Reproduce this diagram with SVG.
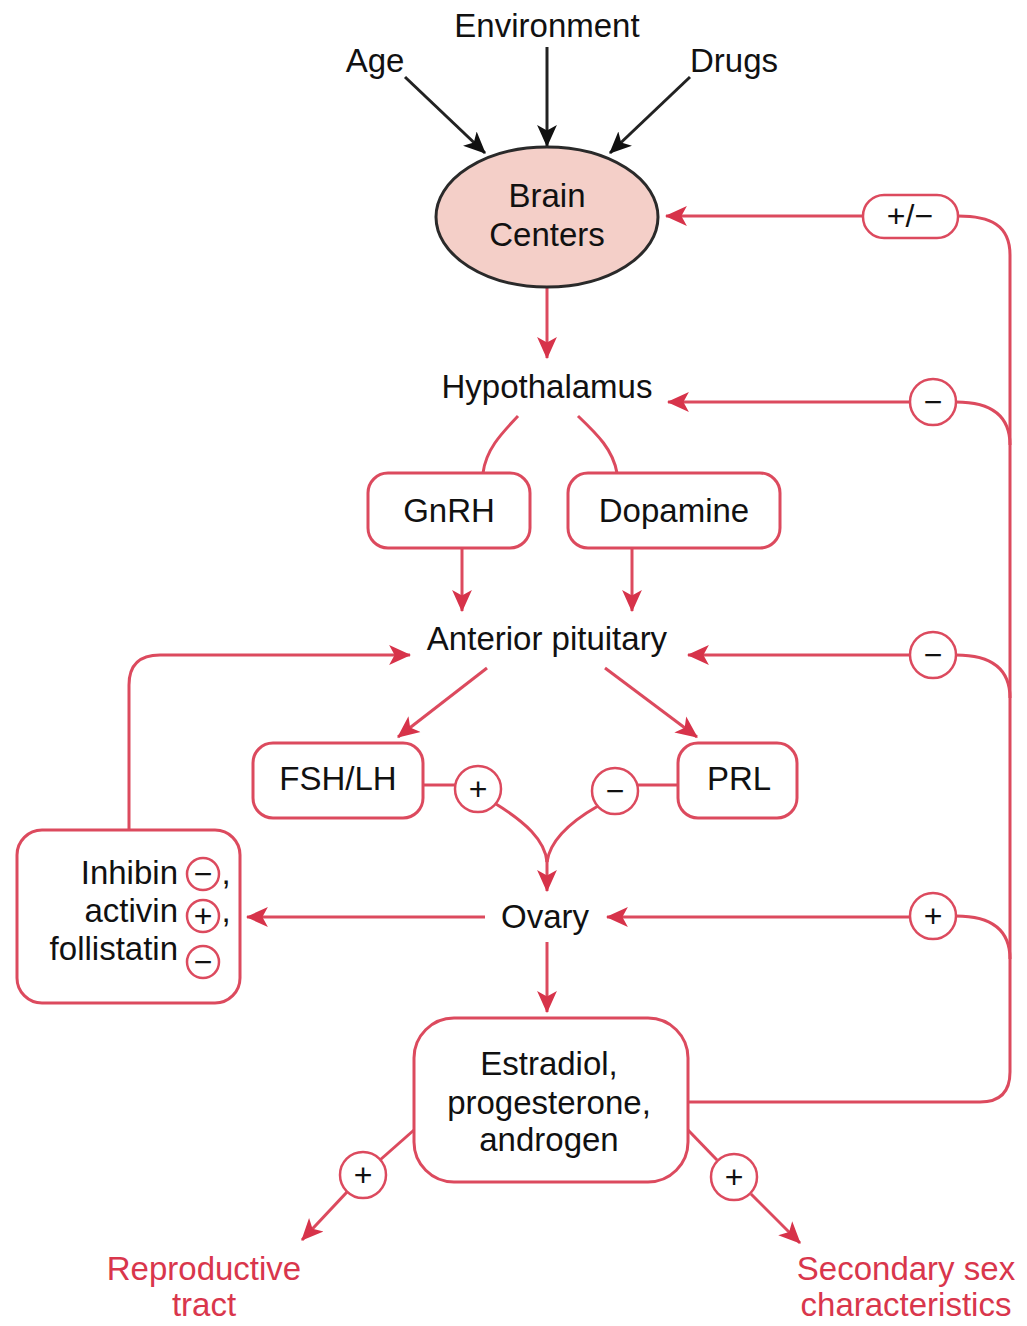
<svg xmlns="http://www.w3.org/2000/svg" width="1027" height="1326" viewBox="0 0 1027 1326">
  <style>
    .t { font-family: "Liberation Sans", Arial, sans-serif; font-size: 33px; fill: #111; text-anchor: middle; }
    .red { fill: #d9364c; }
    .box { fill: #fff; stroke: #dc4a5e; stroke-width: 3; }
    .sign { fill: #fff; stroke: #dc4a5e; stroke-width: 2.5; }
    .ln { fill: none; stroke: #dc4a5e; stroke-width: 3; }
    .blk { fill: none; stroke: #222; stroke-width: 3; }
    .sg { font-family: "Liberation Sans", Arial, sans-serif; font-size: 32px; fill: #111; text-anchor: middle; }
  </style>
  <defs>
    <marker id="arrRed" viewBox="0 0 20 20" refX="19" refY="10" markerWidth="22" markerHeight="22" markerUnits="userSpaceOnUse" orient="auto">
      <path d="M0,1 L20,10 L0,19 L5,10 z" fill="#d7334a"/>
    </marker>
    <marker id="arrBlk" viewBox="0 0 20 20" refX="19" refY="10" markerWidth="22" markerHeight="22" markerUnits="userSpaceOnUse" orient="auto">
      <path d="M0,1 L20,10 L0,19 L5,10 z" fill="#111"/>
    </marker>
  </defs>

  <rect width="1027" height="1326" fill="#fff"/>

  <!-- connectors -->
  <g id="connectors">
    <line class="blk" x1="405" y1="77" x2="485" y2="153" marker-end="url(#arrBlk)"/>
    <line class="blk" x1="547" y1="47" x2="547" y2="146" marker-end="url(#arrBlk)"/>
    <line class="blk" x1="690" y1="77" x2="610" y2="153" marker-end="url(#arrBlk)"/>

    <line class="ln" x1="547" y1="288" x2="547" y2="358" marker-end="url(#arrRed)"/>
    <line class="ln" x1="863" y1="216" x2="666" y2="216" marker-end="url(#arrRed)"/>
    <line class="ln" x1="910" y1="402" x2="668" y2="402" marker-end="url(#arrRed)"/>

    <path class="ln" d="M518,416 C500,435 486,450 483,473"/>
    <path class="ln" d="M578,416 C598,435 613,450 617,473"/>

    <line class="ln" x1="462" y1="548" x2="462" y2="611" marker-end="url(#arrRed)"/>
    <line class="ln" x1="632" y1="548" x2="632" y2="611" marker-end="url(#arrRed)"/>

    <line class="ln" x1="910" y1="655" x2="688" y2="655" marker-end="url(#arrRed)"/>
    <path class="ln" d="M129,830 V685 Q129,655 160,655 H410" marker-end="url(#arrRed)"/>

    <line class="ln" x1="487" y1="668" x2="398" y2="737" marker-end="url(#arrRed)"/>
    <line class="ln" x1="605" y1="668" x2="697" y2="737" marker-end="url(#arrRed)"/>

    <line class="ln" x1="423" y1="785" x2="455" y2="785"/>
    <line class="ln" x1="678" y1="785" x2="638" y2="785"/>
    <path class="ln" d="M496,804 C525,822 545,840 547,862"/>
    <path class="ln" d="M598,806 C570,822 550,840 547,862"/>
    <line class="ln" x1="547" y1="855" x2="547" y2="891" marker-end="url(#arrRed)"/>

    <line class="ln" x1="485" y1="917" x2="247" y2="917" marker-end="url(#arrRed)"/>
    <line class="ln" x1="910" y1="917" x2="607" y2="917" marker-end="url(#arrRed)"/>
    <line class="ln" x1="547" y1="942" x2="547" y2="1012" marker-end="url(#arrRed)"/>

    <!-- feedback trunk from the steroid box -->
    <path class="ln" d="M688,1102 H980 Q1010,1102 1010,1072 V255 C1010,225 990,216 958,216"/>
    <path class="ln" d="M956,402 C990,402 1010,415 1010,445"/>
    <path class="ln" d="M956,655 C990,655 1010,668 1010,698"/>
    <path class="ln" d="M956,916 C990,916 1010,929 1010,959"/>

    <line class="ln" x1="414" y1="1130" x2="380" y2="1160"/>
    <line class="ln" x1="347" y1="1192" x2="302" y2="1240" marker-end="url(#arrRed)"/>
    <line class="ln" x1="688" y1="1130" x2="717" y2="1160"/>
    <line class="ln" x1="751" y1="1194" x2="800" y2="1243" marker-end="url(#arrRed)"/>
  </g>

  <!-- input factors -->
  <g id="age"><text class="t" x="375" y="72">Age</text></g>
  <g id="environment"><text class="t" x="547" y="37">Environment</text></g>
  <g id="drugs"><text class="t" x="734" y="72">Drugs</text></g>

  <g id="brain-centers">
    <ellipse cx="547" cy="217" rx="111" ry="70" fill="#f4cfc8" stroke="#2a2a2a" stroke-width="3"/>
    <text class="t" x="547" y="207">Brain</text>
    <text class="t" x="547" y="246">Centers</text>
  </g>

  <g id="hypothalamus"><text class="t" x="547" y="398">Hypothalamus</text></g>

  <g id="gnrh">
    <rect class="box" x="368" y="473" width="162" height="75" rx="20"/>
    <text class="t" x="449" y="522">GnRH</text>
  </g>
  <g id="dopamine">
    <rect class="box" x="568" y="473" width="212" height="75" rx="20"/>
    <text class="t" x="674" y="522">Dopamine</text>
  </g>

  <g id="anterior-pituitary"><text class="t" x="547" y="650">Anterior pituitary</text></g>

  <g id="fsh-lh">
    <rect class="box" x="253" y="743" width="170" height="75" rx="20"/>
    <text class="t" x="338" y="790">FSH/LH</text>
  </g>
  <g id="prl">
    <rect class="box" x="678" y="743" width="119" height="75" rx="20"/>
    <text class="t" x="739" y="790">PRL</text>
  </g>

  <g id="ovary"><text class="t" x="545" y="928">Ovary</text></g>

  <g id="inhibin-activin-follistatin">
    <rect class="box" x="17" y="830" width="223" height="173" rx="25"/>
    <text class="t" x="178" y="884" style="text-anchor:end">Inhibin</text>
    <text class="t" x="178" y="922" style="text-anchor:end">activin</text>
    <text class="t" x="178" y="960" style="text-anchor:end">follistatin</text>
    <circle class="sign" cx="203" cy="874" r="16"/>
    <text class="sg" x="203" y="885">−</text>
    <circle class="sign" cx="203" cy="916" r="16"/>
    <text class="sg" x="203" y="927">+</text>
    <circle class="sign" cx="203" cy="962" r="16"/>
    <text class="sg" x="203" y="973">−</text>
    <text class="t" x="226" y="884">,</text>
    <text class="t" x="226" y="922">,</text>
  </g>

  <g id="steroids">
    <rect class="box" x="414" y="1018" width="274" height="164" rx="40"/>
    <text class="t" x="549" y="1075">Estradiol,</text>
    <text class="t" x="549" y="1114">progesterone,</text>
    <text class="t" x="549" y="1151">androgen</text>
  </g>

  <g id="reproductive-tract">
    <text class="t red" x="204" y="1280">Reproductive</text>
    <text class="t red" x="204" y="1316">tract</text>
  </g>
  <g id="secondary-sex-characteristics">
    <text class="t red" x="906" y="1280">Secondary sex</text>
    <text class="t red" x="906" y="1316">characteristics</text>
  </g>

  <!-- effect signs on the connectors -->
  <g id="sign-brain">
    <rect class="sign" x="863" y="195" width="95" height="43" rx="21"/>
    <text class="sg" x="910" y="227">+/−</text>
  </g>
  <g id="sign-hypothalamus">
    <circle class="sign" cx="933" cy="402" r="23"/>
    <text class="sg" x="933" y="413">−</text>
  </g>
  <g id="sign-pituitary">
    <circle class="sign" cx="933" cy="655" r="23"/>
    <text class="sg" x="933" y="666">−</text>
  </g>
  <g id="sign-ovary">
    <circle class="sign" cx="933" cy="916" r="23"/>
    <text class="sg" x="933" y="927">+</text>
  </g>
  <g id="sign-fsh">
    <circle class="sign" cx="478" cy="789" r="23"/>
    <text class="sg" x="478" y="800">+</text>
  </g>
  <g id="sign-prl">
    <circle class="sign" cx="615" cy="791" r="23"/>
    <text class="sg" x="615" y="802">−</text>
  </g>
  <g id="sign-tract">
    <circle class="sign" cx="363" cy="1175" r="23"/>
    <text class="sg" x="363" y="1186">+</text>
  </g>
  <g id="sign-secondary">
    <circle class="sign" cx="734" cy="1177" r="23"/>
    <text class="sg" x="734" y="1188">+</text>
  </g>
</svg>
